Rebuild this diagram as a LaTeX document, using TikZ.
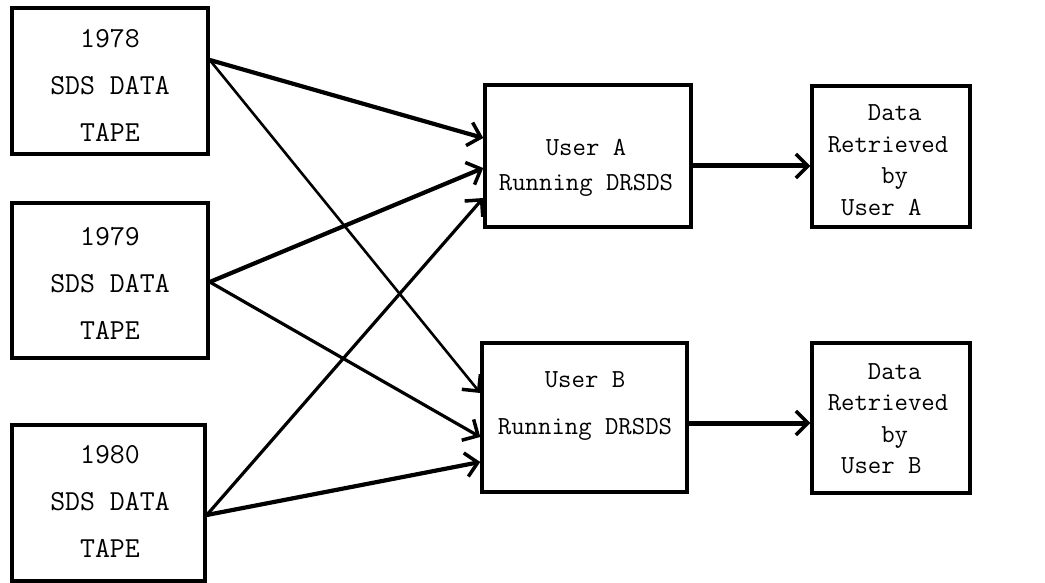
\documentclass[tikz,border=0pt]{standalone}
\usepackage{fontspec}
\usetikzlibrary{arrows.meta}
\tikzset{
  box/.style={draw, line width=3.5pt, inner sep=0pt},
  ltext/.style={font=\fontsize{29}{47}\selectfont\ttfamily, align=center, inner sep=0pt, text depth=0pt},
  utext/.style={font=\fontsize{26}{#1}\selectfont\ttfamily, align=center, inner sep=0pt, text depth=0pt},
  dtext/.style={font=\fontsize{26}{31.5}\selectfont\ttfamily, align=left, inner sep=0pt, text depth=0pt},
  barb/.style={-{Straight Barb[length=12pt,width=24pt,line width=3.5pt]}},
  thickarrow/.style={line width=4.2pt, barb},
  midarrow/.style={line width=3.2pt, barb},
  thinarrow/.style={line width=2.6pt, barb},
  outarrow/.style={line width=5pt, barb}
}
\begin{document}
\begin{tikzpicture}[x=1pt,y=-1pt]
\useasboundingbox[fill=white] (0,0) rectangle (1045,583);
% source boxes
\node[box, minimum width=196pt, minimum height=146pt] (b78) at (110,81) {};
\node[box, minimum width=196pt, minimum height=155pt] (b79) at (110,280.5) {};
\node[box, minimum width=193pt, minimum height=156pt] (b80) at (108.5,503) {};
\node[ltext] (t78) at (110,85) {1978\\SDS DATA\\TAPE};
\node[ltext] (t79) at (110,283) {1979\\SDS DATA\\TAPE};
\node[ltext] (t80) at (110,501.5) {1980\\SDS DATA\\TAPE};
% user boxes
\node[box, minimum width=206pt, minimum height=142pt] (ua) at (588,156) {};
\node[box, minimum width=205pt, minimum height=149pt] (ub) at (584.5,417.5) {};
\node[utext=35] (tua) at (586,164.5) {User A\\Running DRSDS};
\node[utext=47] (tub) at (585,403.5) {User B\\Running DRSDS};
% data boxes
\node[box, minimum width=158pt, minimum height=141pt] (da) at (891,156.5) {};
\node[box, minimum width=158pt, minimum height=150pt] (db) at (891,418) {};
\node[dtext] (tda) at (888,160) {\phantom{XXX}Data\\Retrieved\\\phantom{XXXX}by\\\phantom{X}User A};
\node[dtext] (tdb) at (888,418.5) {\phantom{XXX}Data\\Retrieved\\\phantom{XXXX}by\\\phantom{X}User B};
% connectors
\draw[thickarrow] ([yshift=21pt]b78.east) -- ([yshift=18pt]ua.west);
\draw[thinarrow] ([yshift=21pt]b78.east) -- ([yshift=24.5pt]ub.west);
\draw[thickarrow] ([yshift=-1.5pt]b79.east) -- ([yshift=-12pt]ua.west);
\draw[midarrow] ([yshift=-1.5pt]b79.east) -- ([yshift=-19.5pt]ub.west);
\draw[midarrow] ([yshift=-12pt]b80.east) -- ([yshift=-42pt]ua.west);
\draw[thickarrow] ([yshift=-12pt]b80.east) -- ([yshift=-44.5pt]ub.west);
\draw[outarrow] ([yshift=-10pt]ua.east) -- ([yshift=-9.5pt]da.west);
\draw[outarrow] ([yshift=-5.5pt]ub.east) -- ([yshift=-5pt]db.west);
\end{tikzpicture}
\end{document}
